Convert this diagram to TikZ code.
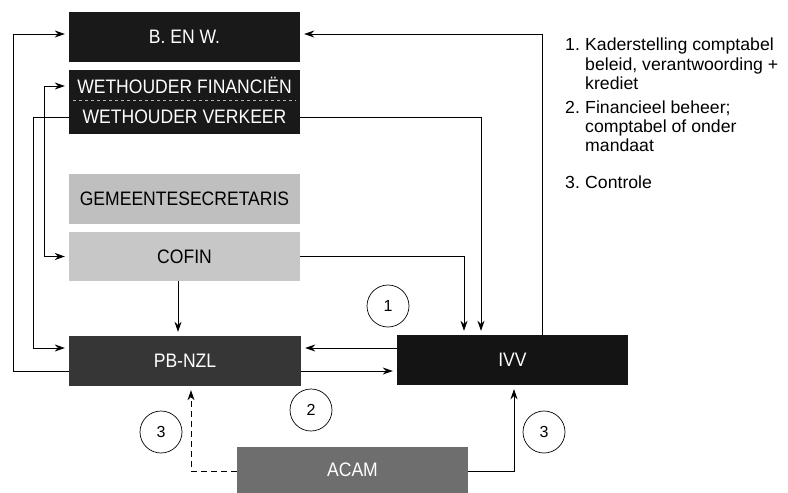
\documentclass[tikz,border=0pt]{standalone}
\usepackage{fontspec}
\setmainfont{Liberation Sans}
\newfontfamily\boxfont[FakeStretch=0.9]{Liberation Sans}
\newfontfamily\legfont[FakeStretch=1.01]{Liberation Sans}
\usetikzlibrary{arrows.meta,calc}
\definecolor{bwc}{gray}{0.1}
\definecolor{gsc}{gray}{0.75}
\definecolor{cofc}{gray}{0.78}
\definecolor{pbc}{gray}{0.21}
\definecolor{ivvc}{gray}{0.08}
\definecolor{acamc}{gray}{0.43}
\begin{document}
\begin{tikzpicture}[x=1pt,y=-1pt,
  box/.style={rectangle, minimum width=231pt, minimum height=50pt, inner sep=0pt,
    font=\boxfont\fontsize{19.5}{21}\selectfont, text=white},
  arr/.style={-{Stealth[length=10pt,width=7pt]}, shorten >=4pt, line width=0.8pt},
  arrtwo/.style={{Stealth[length=10pt,width=7pt]}-{Stealth[length=10pt,width=7pt]}, shorten >=4pt, shorten <=4pt, line width=0.8pt},
  circ/.style={circle, draw, minimum size=42pt, inner sep=0pt, line width=0.7pt,
    font=\fontsize{16}{18}\selectfont},
  legend/.style={anchor=base west, inner sep=0pt, font=\legfont\fontsize{17.5}{19.5}\selectfont}
]
\useasboundingbox (0,0) rectangle (788,493);

% boxes
\node[box, fill=bwc] (bw) at (184.5,37) {B. EN W.};
\node[box, fill=bwc, minimum height=30pt] (whf) at (184.5,85) {WETHOUDER FINANCIËN};
\node[box, fill=bwc, minimum height=34pt] (whv) at (184.5,117) {WETHOUDER VERKEER};
\node[box, fill=gsc, text=black] (gs) at (184.5,199) {GEMEENTESECRETARIS};
\node[box, fill=cofc, text=black, minimum height=49pt] (cofin) at (184.5,256.5) {COFIN};
\node[box, fill=pbc, minimum width=232pt] (pb) at (185,361) {PB-NZL};
\node[box, fill=ivvc] (ivv) at (512.5,360) {IVV};
\node[box, fill=acamc, minimum height=46pt] (acam) at (352.5,470) {ACAM};
\draw[gray!60, dashed, line width=0.8pt] ($(whf.south west)+(4,0)$) -- ($(whf.south east)+(-4,0)$);

% connectors
\draw[arr] ($(pb.west)+(0,10)$) -| ($(bw.west)+(-55,-3)$) -- ($(bw.west)+(0,-3)$);
\draw[arr] (whv.west) -- ++(-35,0) |- ($(pb.west)+(0,-13)$);
\draw[arrtwo] ($(whf.west)+(0,1)$) -- ++(-24,0) |- (cofin.west);
\draw[arr] ($(cofin.south)+(-6.5,0)$) -- ($(pb.north)+(-7,0)$);
\draw[arr] (cofin.east) -| ($(ivv.north)+(-48.5,0)$);
\draw[arr] (whv.east) -| ($(ivv.north)+(-31.5,0)$);
\draw[arr] ($(ivv.north)+(29.5,0)$) |- ($(bw.east)+(0,-3)$);
\draw[arr] ($(ivv.west)+(0,-12)$) -- ($(pb.east)+(0,-13)$);
\draw[arr] ($(pb.east)+(0,10)$) -- ($(ivv.west)+(0,11)$);
\draw[arr, dash pattern=on 6pt off 4pt] ($(acam.west)+(0,1)$) -| ($(pb.south)+(6,0)$);
\draw[arr] ($(acam.east)+(0,1)$) -| ($(ivv.south)+(1.5,0)$);

% circles
\node[circ] (k1) at (388,306) {1};
\node[circ] (k2) at (311,410) {2};
\node[circ] (k3a) at (161,432) {3};
\node[circ] (k3b) at (544,432) {3};

% legend
\node[legend] (l1n) at (565,50) {1.};
\node[legend] (l1a) at (585,50) {Kaderstelling comptabel};
\node[legend] (l1b) at (585,70) {beleid, verantwoording +};
\node[legend] (l1c) at (585,89) {krediet};
\node[legend] (l2n) at (565,113) {2.};
\node[legend] (l2a) at (585,113) {Financieel beheer;};
\node[legend] (l2b) at (585,132) {comptabel of onder};
\node[legend] (l2c) at (585,151) {mandaat};
\node[legend] (l3n) at (565,188) {3.};
\node[legend] (l3a) at (585,188) {Controle};
\end{tikzpicture}
\end{document}
